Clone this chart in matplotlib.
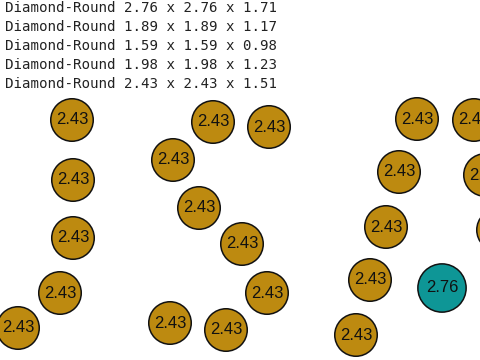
import matplotlib
matplotlib.use("Agg")
import matplotlib.pyplot as plt
from matplotlib.patches import Circle

# Header lines: stone shape and dimensions (mm)
shapes = ["Diamond-Round"] * 5
dim_a = [2.76, 1.89, 1.59, 1.98, 2.43]
dim_b = [2.76, 1.89, 1.59, 1.98, 2.43]
dim_c = [1.71, 1.17, 0.98, 1.23, 1.51]

# Stones on the layout: size (mm) and position (layout px)
stone_size = [2.43] * 21 + [2.76]
stone_x = [72, 73, 73, 60, 18,
           213, 269, 173, 199, 242, 267, 170, 226,
           417, 474, 399, 485, 386, 498, 370, 356,
           442]
stone_y = [120, 180, 238, 293, 328,
           122, 127, 160, 208, 244, 293, 323, 330,
           119, 120, 172, 175, 227, 230, 280, 335,
           288]
stone_color = {2.43: "#bd8a10", 2.76: "#0e9696"}

W, H = 480, 360
fig = plt.figure(figsize=(4.8, 3.6), dpi=100)
ax = fig.add_axes([0, 0, 1, 1])
ax.set_xlim(0, W)
ax.set_ylim(H, 0)
ax.set_aspect("equal")
ax.axis("off")

# px per mm of stone diameter
scale = 42.5 / 2.43

for x, y, s in zip(stone_x, stone_y, stone_size):
    ax.add_patch(Circle((x, y), s * scale / 2, facecolor=stone_color[s],
                        edgecolor="#111111", linewidth=1.1))
    # labels near the right edge are clipped by the layout, as in the source
    ax.text(x, y, f"{s:.2f}", ha="center", va="center", fontsize=12,
            family="Liberation Sans", color="#111111", clip_on=True)

for i, (name, a, b, c) in enumerate(zip(shapes, dim_a, dim_b, dim_c)):
    ax.text(5, 8 + i * 19, f"{name} {a:.2f} x {b:.2f} x {c:.2f}",
            ha="left", va="center", fontsize=10.2, family="DejaVu Sans Mono",
            color="#222222")

fig.savefig("out.png", dpi=100)
